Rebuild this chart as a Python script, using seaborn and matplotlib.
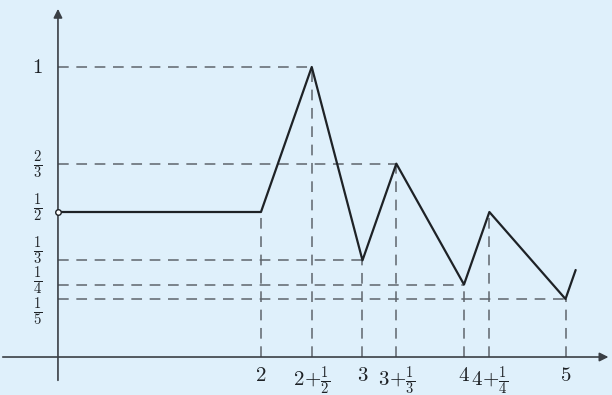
import numpy as np
import pandas as pd
import matplotlib
matplotlib.use("Agg")
import matplotlib.pyplot as plt
import seaborn as sns

# ── Data ──────────────────────────────────────────────────────────────
path_x = [0, 2, 2.5, 3, 3 + 1/3, 4, 4.25, 5, 5.1]
path_y = [1/2, 1/2, 1, 1/3, 2/3, 1/4, 1/2, 1/5, 0.3]

# points that get dashed guide lines (x, y, horizontal guide?)
guide_x = [2, 2.5, 3, 3 + 1/3, 4, 4.25, 5]
guide_y = [1/2, 1, 1/3, 2/3, 1/4, 1/2, 1/5]
guide_h = [False, True, True, True, True, False, True]

xtick_vals = [2, 2.5, 3, 3 + 1/3, 4, 4.25, 5]
xtick_labels = ["$2$", r"$2\!+\!\frac{1}{2}$", "$3$", r"$3\!+\!\frac{1}{3}$",
                "$4$", r"$4\!+\!\frac{1}{4}$", "$5$"]
ytick_vals = [1, 2/3, 1/2, 1/3, 1/4, 1/5]
ytick_labels = ["$1$", r"$\frac{2}{3}$", r"$\frac{1}{2}$", r"$\frac{1}{3}$",
                r"$\frac{1}{4}$", r"$\frac{1}{5}$"]

# small vertical nudges so the stacked fractions do not collide
ylabel_nudge = [0.0, -0.005, 0.014, 0.034, 0.012, -0.043]

BG = "#dff0fb"
INK = "#1e2226"
sns.set_style("white", {"axes.facecolor": BG, "figure.facecolor": BG})
plt.rcParams["mathtext.fontset"] = "cm"

fig = plt.figure(figsize=(6.12, 3.95), dpi=100)
ax = fig.add_axes([0, 0, 1, 1])
ax.set_xlim(-0.571, 5.458)
ax.set_ylim(-0.131, 1.231)
ax.axis("off")

# dashed guides
dash = dict(color="#5f656c", lw=1.1, dashes=(7, 5))
for gx, gy, gh in zip(guide_x, guide_y, guide_h):
    ax.plot([gx, gx], [0, gy], **dash)
    if gh:
        ax.plot([0, gx], [gy, gy], **dash)

# axes with arrows
arrow = dict(arrowstyle="-|>", color="#3a3f45", lw=1.2, mutation_scale=13)
ax.annotate("", xy=(5.45, 0), xytext=(-0.571, 0), arrowprops=arrow)
ax.annotate("", xy=(0, 1.21), xytext=(0, -0.09), arrowprops=arrow)

df = pd.DataFrame({"x": path_x, "y": path_y})
sns.lineplot(data=df, x="x", y="y", sort=False, color=INK, lw=1.6,
             ax=ax, legend=False)
ax.plot([0], [0.5], marker="o", ms=4, mfc="white", mec=INK, mew=1, zorder=5)

for v, lab in zip(xtick_vals, xtick_labels):
    ax.text(v, -0.027, lab, ha="center", va="top", fontsize=15, color=INK)
for v, lab, dy in zip(ytick_vals, ytick_labels, ylabel_nudge):
    ax.text(-0.2, v + dy, lab, ha="center", va="center", fontsize=15,
            color=INK)

fig.savefig("out.png", dpi=100, facecolor=BG)
